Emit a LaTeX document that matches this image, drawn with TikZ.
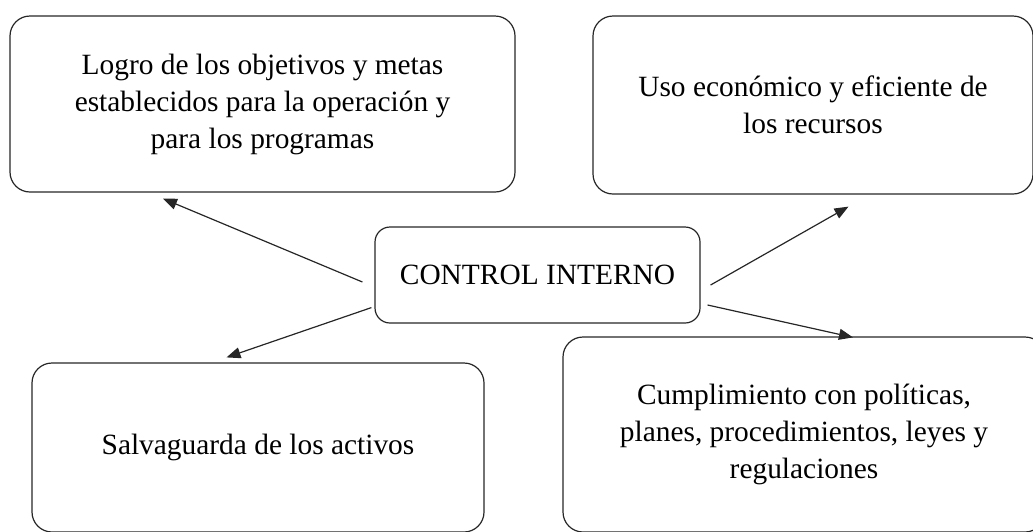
\documentclass[tikz,border=0pt]{standalone}
\usepackage{fontspec}
\setmainfont{Liberation Serif}
\usetikzlibrary{arrows.meta}

\tikzset{
    caja/.style={draw=black!85, line width=0.6pt, rounded corners=10pt, align=center, inner sep=0pt, font=\fontsize{14.7}{18.5}\selectfont},
    flecha/.style={draw=black!85, line width=0.6pt, -{Triangle[length=7pt,width=5.5pt]}}
}

\begin{document}
\begin{tikzpicture}[x=0.5pt, y=-0.5pt]
    \useasboundingbox (0,0) rectangle (1033,531);
    \node[caja, minimum width=252.5pt, minimum height=88pt] (logro) at (262.5,104) {Logro de los objetivos y metas\\establecidos para la operación y\\para los programas};
    \node[caja, minimum width=220pt, minimum height=89pt] (uso) at (813,105) {Uso económico y eficiente de\\los recursos};
    \node[caja, rounded corners=7.5pt, minimum width=162.5pt, minimum height=48pt] (control) at (537.5,275) {CONTROL INTERNO};
    \node[caja, minimum width=226pt, minimum height=84.5pt] (salva) at (258,447.5) {Salvaguarda de los activos};
    \node[caja, minimum width=241pt, minimum height=97.5pt] (cumpl) at (804,434.5) {Cumplimiento con políticas,\\planes, procedimientos, leyes y\\regulaciones};
    \draw[flecha] ([xshift=-6pt,yshift=-3.5pt]control.west) -- ([xshift=-49.75pt,yshift=-3pt]logro.south);
    \draw[flecha] ([xshift=-1.5pt,yshift=8pt]control.south west) -- ([xshift=-15.75pt,yshift=2.5pt]salva.north);
    \draw[flecha] ([xshift=5pt,yshift=-5pt]control.east) -- ([xshift=17.75pt,yshift=-6pt]uso.south);
    \draw[flecha] ([xshift=3.5pt,yshift=-15pt]control.east) -- ([xshift=24.5pt,yshift=-0.5pt]cumpl.north);
\end{tikzpicture}
\end{document}
